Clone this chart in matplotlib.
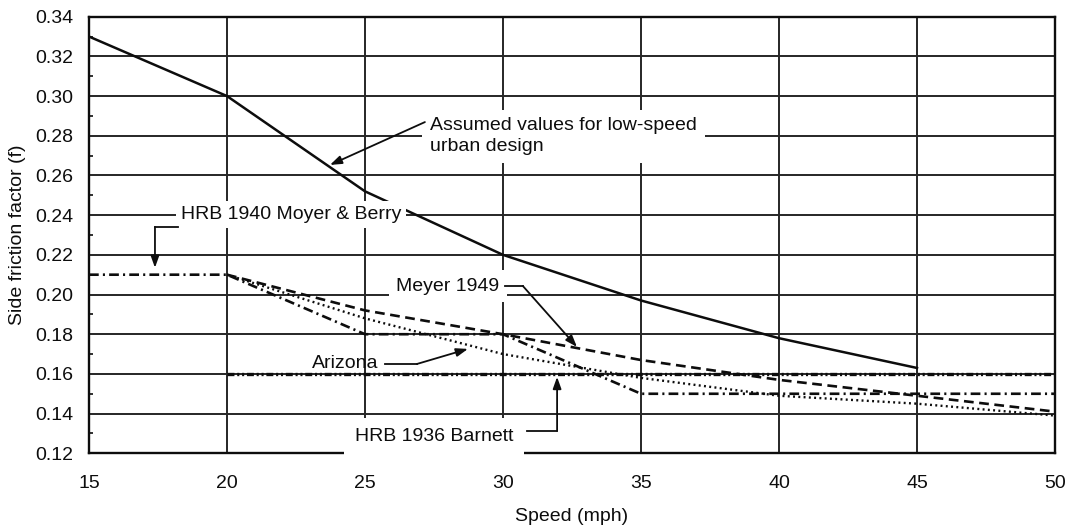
import matplotlib
matplotlib.use("Agg")
import matplotlib.pyplot as plt
from matplotlib.ticker import MultipleLocator

plt.rcParams['font.family'] = ['Liberation Sans', 'DejaVu Sans']
plt.rcParams['lines.scale_dashes'] = False

# ---- data ----
speed_assumed = [15, 20, 25, 30, 35, 40, 45]
f_assumed = [0.33, 0.30, 0.252, 0.22, 0.197, 0.178, 0.163]

speed_meyer = [20, 25, 30, 35, 40, 45, 50]
f_meyer = [0.21, 0.192, 0.18, 0.167, 0.157, 0.149, 0.141]

speed_arizona = [20, 25, 30, 35, 40, 45, 50]
f_arizona = [0.21, 0.188, 0.170, 0.158, 0.149, 0.145, 0.139]

speed_hrb1940 = [15, 20, 25, 30, 35, 40, 45, 50]
f_hrb1940 = [0.21, 0.21, 0.18, 0.18, 0.15, 0.15, 0.15, 0.15]

speed_hrb1936 = [20, 25, 30, 35, 40, 45, 50]
f_hrb1936 = [0.16, 0.16, 0.16, 0.16, 0.16, 0.16, 0.16]

x_ticks = [15, 20, 25, 30, 35, 40, 45, 50]
y_ticks = [0.12, 0.14, 0.16, 0.18, 0.20, 0.22, 0.24, 0.26, 0.28, 0.30, 0.32, 0.34]
y_tick_labels = ["%.2f" % v for v in y_ticks]

x_label = "Speed (mph)"
y_label = "Side friction factor (f)"

FS = 14
INK = "#0d0d0d"
GRID = "#262626"

fig = plt.figure(figsize=(10.68, 5.31), dpi=100)
ax = fig.add_axes([89/1068, 1-453.3/531, (1055-89)/1068, (453.3-16.7)/531])

ax.set_xlim(15, 50)
ax.set_ylim(0.12, 0.34)
ax.set_xticks(x_ticks)
ax.set_xticklabels([str(v) for v in x_ticks])
ax.set_yticks(y_ticks)
ax.set_yticklabels(y_tick_labels)
ax.yaxis.set_minor_locator(MultipleLocator(0.01))
ax.tick_params(axis='both', which='major', length=0, labelsize=FS, colors=INK)
ax.tick_params(axis='x', which='major', pad=15.5)
ax.tick_params(axis='y', which='major', pad=11)
ax.tick_params(axis='y', which='minor', direction='in', length=3, width=1.2, color=INK)
ax.grid(True, which='major', color=GRID, linewidth=1.4, zorder=0)
ax.set_axisbelow(True)
for s in ax.spines.values():
    s.set_linewidth(1.7)
    s.set_color(INK)

# ---- series ----
ax.plot(speed_assumed, f_assumed, color=INK, lw=1.8, zorder=3)
ax.plot(speed_meyer, f_meyer, color=INK, lw=1.9, linestyle=(0, (7, 4)), zorder=3)
ax.plot(speed_arizona, f_arizona, color=INK, lw=1.7, linestyle=(0, (1.4, 2.4)), zorder=3)
ax.plot(speed_hrb1940, f_hrb1940, color=INK, lw=1.9, linestyle=(0, (7, 3, 1.5, 3)), zorder=3)
ax.plot(speed_hrb1936, f_hrb1936, color=INK, lw=2.4, linestyle=(0, (5, 2, 1.5, 2, 1.5, 2)), zorder=3)

# ---- annotations ----
arrow = dict(arrowstyle='-|>,head_length=0.7,head_width=0.25', color=INK, lw=1.3,
             shrinkA=0, shrinkB=0)

ax.text(27.36, 0.2797, "Assumed values for low-speed\nurban design", fontsize=FS,
        ha='left', va='center', color=INK, linespacing=1.3, zorder=4,
        bbox=dict(boxstyle='square,pad=0.4', fc='white', ec='none'))
ax.annotate("", xy=(23.73, 0.2653), xytext=(27.17, 0.2869), arrowprops=arrow, zorder=5)

ax.text(18.33, 0.2405, "HRB 1940 Moyer & Berry", fontsize=FS, ha='left', va='center',
        color=INK, zorder=4, bbox=dict(boxstyle='square,pad=0.25', fc='white', ec='none'))
ax.plot([18.22, 17.39], [0.2341, 0.2341], color=INK, lw=1.3, zorder=5)
ax.annotate("", xy=(17.39, 0.2135), xytext=(17.39, 0.2341), arrowprops=arrow, zorder=5)

ax.text(29.87, 0.2043, "Meyer 1949", fontsize=FS, ha='right', va='center',
        color=INK, zorder=4, bbox=dict(boxstyle='square,pad=0.4', fc='white', ec='none'))
ax.plot([30.07, 30.72], [0.2043, 0.2043], color=INK, lw=1.3, zorder=5)
ax.annotate("", xy=(32.68, 0.1736), xytext=(30.72, 0.2043), arrowprops=arrow, zorder=5)

ax.text(25.5, 0.1655, "Arizona", fontsize=FS, ha='right', va='center',
        color=INK, zorder=4)
ax.plot([25.72, 26.88], [0.1650, 0.1650], color=INK, lw=1.3, zorder=5)
ax.annotate("", xy=(28.73, 0.1726), xytext=(26.88, 0.1650), arrowprops=arrow, zorder=5)

ax.text(24.64, 0.1283, "HRB 1936 Barnett", fontsize=FS, ha='left', va='center',
        color=INK, zorder=4,
        bbox=dict(boxstyle='square,pad=0.55', fc='white', ec='none'))
ax.plot([30.87, 31.96], [0.1313, 0.1313], color=INK, lw=1.3, zorder=5)
ax.annotate("", xy=(31.96, 0.1585), xytext=(31.96, 0.1313), arrowprops=arrow, zorder=5)

ax.set_xlabel(x_label, fontsize=FS, color=INK)
ax.set_ylabel(y_label, fontsize=FS, color=INK)
ax.xaxis.set_label_coords(0.5, -0.125)
ax.yaxis.set_label_coords(-0.074, 0.5)
ax.yaxis.label.set_verticalalignment('center')

fig.savefig("out.png", dpi=100, facecolor='white')
